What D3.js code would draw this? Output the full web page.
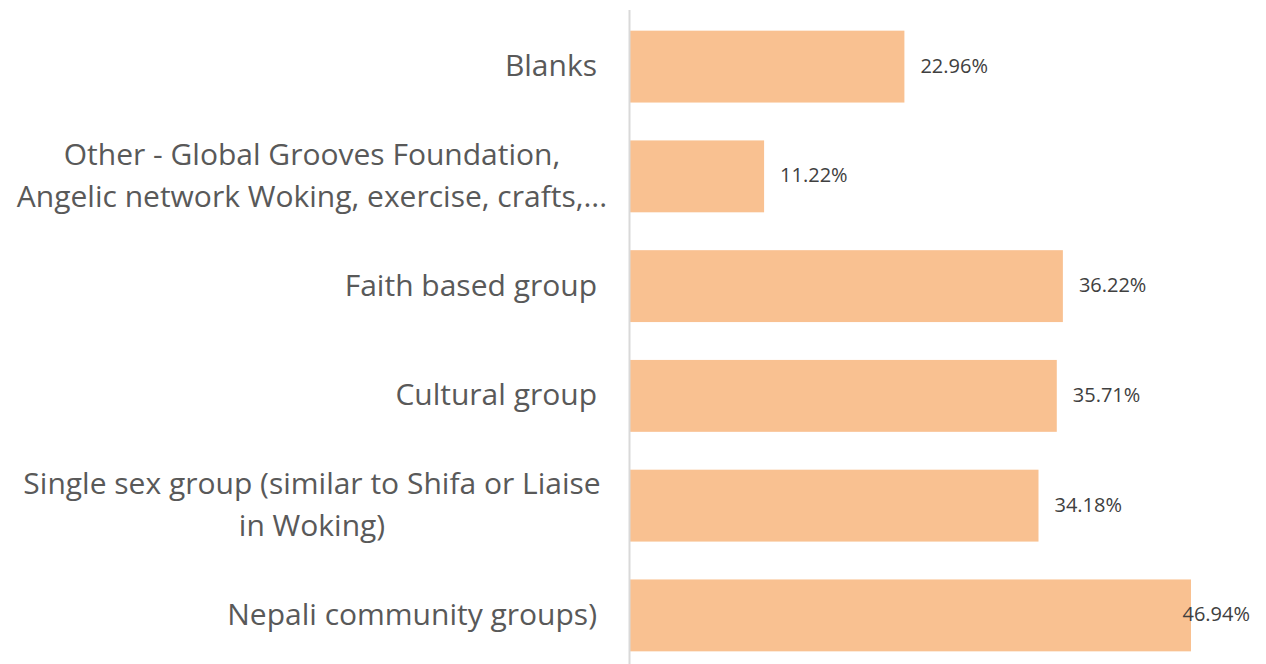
<!DOCTYPE html>
<html>
<head>
<meta charset="utf-8">
<script src="https://cdn.jsdelivr.net/npm/d3@7"></script>
<style>
  body { margin: 0; background: #fff; }
  text { font-family: "Open Sans", "Noto Sans", sans-serif; }
</style>
</head>
<body>
<div id="chart-area"></div>
<script>
// data
const categories = [
  ['Blanks'],
  ['Other - Global Grooves Foundation,', 'Angelic network Woking, exercise, crafts,...'],
  ['Faith based group'],
  ['Cultural group'],
  ['Single sex group (similar to Shifa or Liaise', 'in Woking)'],
  ['Nepali community groups)']
];
const values = [22.96, 11.22, 36.22, 35.71, 34.18, 46.94];
const valueLabels = ['22.96%', '11.22%', '36.22%', '35.71%', '34.18%', '46.94%'];

const W = 1266, H = 664;
const margin = {left: 630, right: 16, top: 12, bottom: -6};
const width = W - margin.left - margin.right;
const height = H - margin.top - margin.bottom;

const svg = d3.select('#chart-area')
  .append('svg')
  .attr('width', W)
  .attr('height', H);

const g = svg.append('g')
  .attr('transform', `translate(${margin.left}, ${margin.top})`);

const idx = d3.range(categories.length);

const y = d3.scaleBand()
  .domain(idx)
  .range([0, height])
  .paddingInner(0.345)
  .paddingOuter(0.17);

const x = d3.scaleLinear()
  .domain([0, 46.94])
  .range([0, 561]);

// bars
g.selectAll('rect')
  .data(idx)
  .enter()
  .append('rect')
  .attr('x', 0)
  .attr('y', i => y(i))
  .attr('width', i => x(values[i]))
  .attr('height', y.bandwidth())
  .attr('fill', '#F9C191');

// axis line
g.append('line')
  .attr('x1', -0.5).attr('x2', -0.5)
  .attr('y1', -2).attr('y2', H)
  .attr('stroke', '#d9d9d9')
  .attr('stroke-width', 2);

// category labels (single line right aligned, wrapped ones centred)
const lineH = 41.5;
idx.forEach(i => {
  const lines = categories[i];
  const cy = y(i) + y.bandwidth() / 2 - 2.5;
  const multi = lines.length > 1;
  const t = g.append('text')
    .attr('text-anchor', multi ? 'middle' : 'end')
    .attr('font-size', '30px')
    .attr('fill', '#595959')
    .attr('dominant-baseline', 'central');
  lines.forEach((ln, k) => {
    t.append('tspan')
      .attr('x', multi ? -318 : -33)
      .attr('y', cy + (k - (lines.length - 1) / 2) * lineH)
      .text(ln);
  });
});

// value labels
idx.forEach(i => {
  const t = g.append('text')
    .attr('font-size', '20px')
    .attr('fill', '#404040')
    .attr('dominant-baseline', 'central')
    .attr('y', y(i) + y.bandwidth() / 2 - 1.5)
    .text(valueLabels[i]);
  const tw = t.node().getComputedTextLength();
  const xPos = Math.min(x(values[i]) + 16, width - tw);
  t.attr('x', xPos);
});
</script>
</body>
</html>
